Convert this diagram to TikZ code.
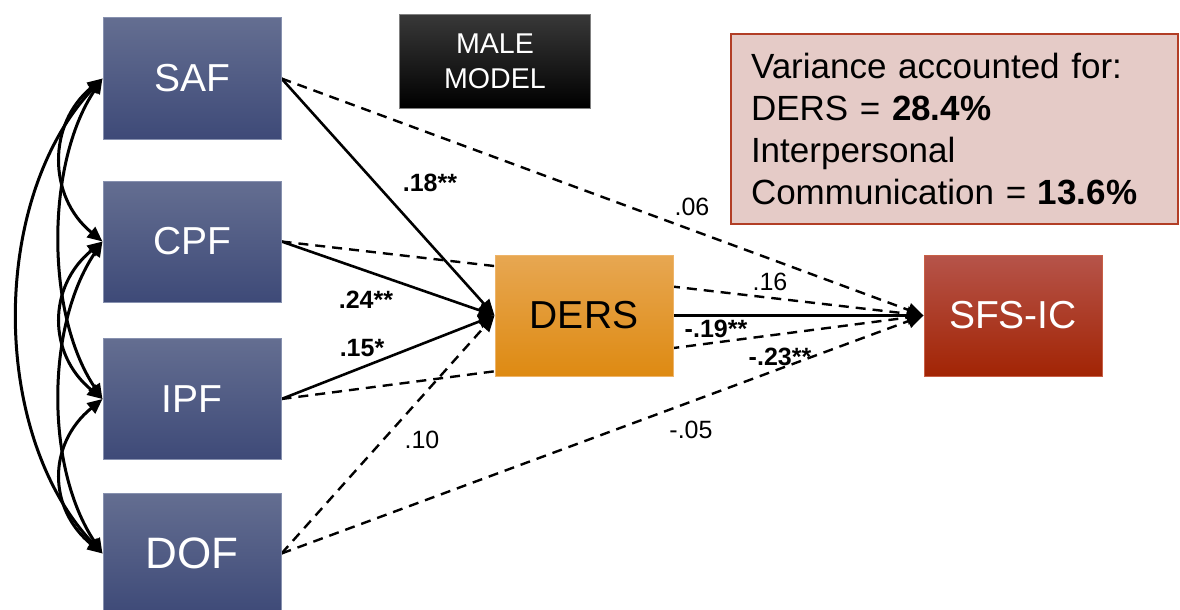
\documentclass[tikz,border=0pt]{standalone}
\usepackage{fontspec}
\setmainfont{Liberation Sans}
\usetikzlibrary{arrows.meta,backgrounds}

\definecolor{boxtop}{RGB}{100,110,145}
\definecolor{boxbot}{RGB}{62,74,120}
\definecolor{boxline}{RGB}{135,145,175}
\definecolor{derstop}{RGB}{231,167,82}
\definecolor{dersbot}{RGB}{222,138,18}
\definecolor{dersline}{RGB}{238,180,105}
\definecolor{sfstop}{RGB}{182,84,74}
\definecolor{sfsbot}{RGB}{162,36,4}
\definecolor{sfsline}{RGB}{200,95,70}
\definecolor{notefill}{RGB}{229,203,199}
\definecolor{noteline}{RGB}{178,62,38}

\begin{document}
\begin{tikzpicture}[x=1pt,y=-1pt,
  factor/.style={draw=boxline, line width=1pt, top color=boxtop, bottom color=boxbot,
    minimum width=178pt, minimum height=121pt, inner sep=0pt, text=white,
    font=\fontsize{39}{39}\selectfont},
  mediator/.style={factor, draw=dersline, top color=derstop, bottom color=dersbot, text=black},
  outcome/.style={factor, draw=sfsline, top color=sfstop, bottom color=sfsbot},
  titlebox/.style={draw=black!50, line width=1pt, top color=black!78, bottom color=black,
    minimum width=191pt, minimum height=93pt, inner sep=0pt, text=white, align=center,
    font=\fontsize{28.6}{35}\selectfont},
  notebox/.style={draw=noteline, line width=2pt, fill=notefill, minimum width=447pt,
    minimum height=190pt, inner xsep=20pt, text width=407pt, align=left,
    font=\fontsize{35}{42}\selectfont},
  effect/.style={line width=2.6pt, arrows={-Triangle[length=16pt,width=14pt]}},
  nonsig/.style={effect, line width=2.4pt, dash pattern=on 10pt off 7pt},
  covar/.style={line width=3pt,
    arrows={Triangle[length=15pt,width=13pt]-Triangle[length=15pt,width=13pt]}},
  coef/.style={inner sep=0pt, font=\fontsize{25}{25}\selectfont},
  sigcoef/.style={inner sep=0pt, font=\fontsize{25}{25}\selectfont\bfseries},
]
\useasboundingbox (0,0) rectangle (1180,610);

% predictors, mediator and outcome
\node[factor] (saf) at (192,78.5) {SAF};
\node[factor] (cpf) at (192,241.5) {CPF};
\node[factor] (ipf) at (192,399) {IPF};
\node[factor, font=\fontsize{44}{44}\selectfont] (dof) at (192,553.5) {DOF};
\node[mediator] (ders) at (584,315.5) {DERS};
\node[outcome] (sfs) at (1013,315.5) {SFS-IC};

% headings
\node[titlebox] (title) at (495,61.5) {MALE\\MODEL};
\node[notebox, anchor=north west] (note) at (730,33)
  {Variance accounted for:\\DERS = \textbf{28.4\%}\\Interpersonal\\Communication = \textbf{13.6\%}};

% structural paths, kept behind the boxes
\begin{scope}[on background layer]
  \draw[effect] (saf.east) -- (ders.west);
  \draw[effect] (cpf.east) -- (ders.west);
  \draw[effect] (ipf.east) -- (ders.west);
  \draw[nonsig] (dof.east) -- (ders.west);
  \draw[nonsig] (saf.east) -- (sfs.west);
  \draw[nonsig] (cpf.east) -- (sfs.west);
  \draw[nonsig] (ipf.east) -- (sfs.west);
  \draw[nonsig] (dof.east) -- (sfs.west);
  \draw[effect] (ders.east) -- (sfs.west);
\end{scope}

% correlations among the predictors
\draw[covar] (saf.west) .. controls +(-55,45) and +(-55,-45) .. (cpf.west);
\draw[covar] (saf.west) .. controls +(-57,85) and +(-57,-85) .. (ipf.west);
\draw[covar] (saf.west) .. controls +(-113,120) and +(-113,-120) .. (dof.west);
\draw[covar] (cpf.west) .. controls +(-55,45) and +(-55,-45) .. (ipf.west);
\draw[covar] (cpf.west) .. controls +(-57,85) and +(-57,-85) .. (dof.west);
\draw[covar] (ipf.west) .. controls +(-55,45) and +(-55,-45) .. (dof.west);

% path coefficients
\node[sigcoef] (c1) at (430,183) {.18**};
\node[sigcoef] (c2) at (366,300) {.24**};
\node[sigcoef] (c3) at (362,348) {.15*};
\node[coef] (c4) at (422,440) {.10};
\node[coef] (c5) at (692,207) {.06};
\node[coef] (c6) at (770,282) {.16};
\node[sigcoef] (c7) at (716,329) {-.19**};
\node[sigcoef] (c8) at (780,357) {-.23**};
\node[coef] (c9) at (691,430) {-.05};
\end{tikzpicture}
\end{document}
